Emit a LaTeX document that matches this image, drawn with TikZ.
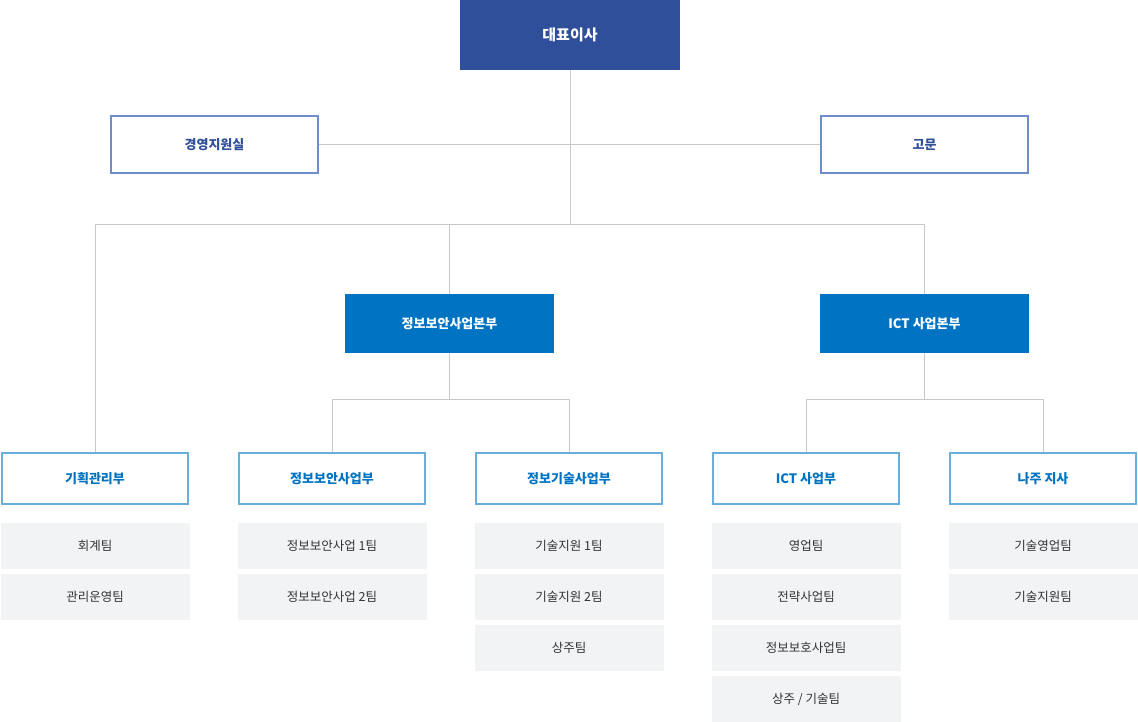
\documentclass[tikz,border=0pt]{standalone}
\usepackage{fontspec}
\setmainfont{Noto Sans CJK KR}
\definecolor{navy}{HTML}{2F4F9B}
\definecolor{mblue}{HTML}{0073C2}
\definecolor{nborder}{HTML}{6F8DCB}
\definecolor{lborder}{HTML}{6AAEDD}
\definecolor{gbox}{HTML}{F2F3F5}
\definecolor{lnc}{HTML}{C8C8C8}
\definecolor{txt}{HTML}{333333}
\begin{document}
\begin{tikzpicture}[x=1pt,y=-1pt,
 ceo/.style={fill=navy,text=white,font=\bfseries\fontsize{15}{18}\selectfont,minimum width=220pt,minimum height=70pt,inner sep=0pt},
 staff/.style={draw=nborder,line width=1.5pt,fill=white,text=navy,font=\bfseries\fontsize{13}{16}\selectfont,minimum width=207pt,minimum height=57pt,inner sep=0pt},
 hq/.style={fill=mblue,text=white,font=\bfseries\fontsize{13}{16}\selectfont,minimum width=209pt,minimum height=59pt,inner sep=0pt},
 dept/.style={draw=lborder,line width=2pt,fill=white,text=mblue,font=\bfseries\fontsize{13}{16}\selectfont,minimum width=186pt,minimum height=51pt,inner sep=0pt},
 team/.style={fill=gbox,text=txt,font=\fontsize{12.5}{15}\selectfont,minimum width=189pt,minimum height=46pt,inner sep=0pt},
 ln/.style={draw=lnc,line width=1pt}]
\useasboundingbox (0,0) rectangle (1138,722);
\node[ceo] (ceo) at (570,35) {대표이사};
\node[staff] (mgmt) at (214.5,144.5) {경영지원실};
\node[staff] (adv) at (924.5,144.5) {고문};
\node[hq] (hq1) at (449.5,323.5) {정보보안사업본부};
\node[hq] (hq2) at (924.5,323.5) {ICT 사업본부};
\node[dept] (d1) at (95,478.5) {기획관리부};
\node[dept] (d2) at (332,478.5) {정보보안사업부};
\node[dept] (d3) at (569,478.5) {정보기술사업부};
\node[dept] (d4) at (806,478.5) {ICT 사업부};
\node[dept] (d5) at (1043,478.5) {나주 지사};
\node[team] at (95,546) {회계팀};
\node[team] at (95,597) {관리운영팀};
\node[team] at (332,546) {정보보안사업 1팀};
\node[team] at (332,597) {정보보안사업 2팀};
\node[team] at (569,546) {기술지원 1팀};
\node[team] at (569,597) {기술지원 2팀};
\node[team] at (569,648) {상주팀};
\node[team] at (806,546) {영업팀};
\node[team] at (806,597) {전략사업팀};
\node[team] at (806,648) {정보보호사업팀};
\node[team] at (806,699) {상주 / 기술팀};
\node[team] at (1043,546) {기술영업팀};
\node[team] at (1043,597) {기술지원팀};
\coordinate (j1) at (570,225);
\coordinate (j2) at (449.5,399);
\coordinate (j3) at (924.5,399);
\begin{scope}[on background layer/.style={}]
\draw[ln] (ceo.south) -- (j1);
\draw[ln] (mgmt.east) -- (adv.west);
\draw[ln] (j1) -| (d1.north);
\draw[ln] (j1) -| (hq1.north);
\draw[ln] (j1) -| (hq2.north);
\draw[ln] (hq1.south) -- (j2);
\draw[ln] (j2) -| (d2.north);
\draw[ln] (j2) -| (d3.north);
\draw[ln] (hq2.south) -- (j3);
\draw[ln] (j3) -| (d4.north);
\draw[ln] (j3) -| (d5.north);
\end{scope}
\end{tikzpicture}
\end{document}
